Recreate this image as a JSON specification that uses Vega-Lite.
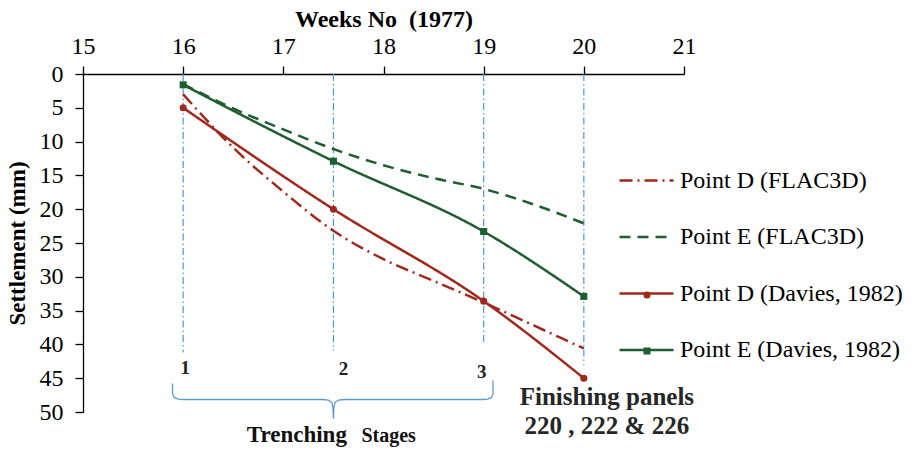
{
  "$schema": "https://vega.github.io/schema/vega-lite/v6.json",
  "width": 601,
  "height": 338,
  "autosize": {"type": "none"},
  "padding": {"left": 83, "top": 74, "right": 234, "bottom": 37},
  "background": "white",
  "config": {
    "view": {"stroke": null},
    "font": "Liberation Serif",
    "axis": {"grid": false, "labelFont": "Liberation Serif", "titleFont": "Liberation Serif", "labelColor": "black", "titleColor": "black", "domainColor": "black", "tickColor": "black", "domainWidth": 1.3, "tickWidth": 1.3, "tickSize": 8, "labelFlush": false, "labelOverlap": false},
    "legend": {"labelFont": "Liberation Serif", "labelFontSize": 24, "labelColor": "black"}
  },
  "datasets": {
    "series": [
      {"series": "Point D (FLAC3D)", "week": 16, "mm": 3},
      {"series": "Point D (FLAC3D)", "week": 16.5, "mm": 10.9},
      {"series": "Point D (FLAC3D)", "week": 17, "mm": 17.4},
      {"series": "Point D (FLAC3D)", "week": 17.5, "mm": 23.2},
      {"series": "Point D (FLAC3D)", "week": 18, "mm": 27.4},
      {"series": "Point D (FLAC3D)", "week": 18.5, "mm": 30.6},
      {"series": "Point D (FLAC3D)", "week": 19, "mm": 33.8},
      {"series": "Point D (FLAC3D)", "week": 19.5, "mm": 37.2},
      {"series": "Point D (FLAC3D)", "week": 20, "mm": 40.6},
      {"series": "Point E (FLAC3D)", "week": 16, "mm": 1.5},
      {"series": "Point E (FLAC3D)", "week": 16.5, "mm": 5.1},
      {"series": "Point E (FLAC3D)", "week": 17, "mm": 8.2},
      {"series": "Point E (FLAC3D)", "week": 17.5, "mm": 11.1},
      {"series": "Point E (FLAC3D)", "week": 18, "mm": 13.5},
      {"series": "Point E (FLAC3D)", "week": 18.5, "mm": 15.4},
      {"series": "Point E (FLAC3D)", "week": 19, "mm": 17.0},
      {"series": "Point E (FLAC3D)", "week": 19.5, "mm": 19.3},
      {"series": "Point E (FLAC3D)", "week": 20, "mm": 22.1},
      {"series": "Point D (Davies, 1982)", "week": 16, "mm": 5},
      {"series": "Point D (Davies, 1982)", "week": 17.5, "mm": 20},
      {"series": "Point D (Davies, 1982)", "week": 19, "mm": 33.6},
      {"series": "Point D (Davies, 1982)", "week": 20, "mm": 45},
      {"series": "Point E (Davies, 1982)", "week": 16, "mm": 1.6},
      {"series": "Point E (Davies, 1982)", "week": 17.5, "mm": 12.9},
      {"series": "Point E (Davies, 1982)", "week": 19, "mm": 23.3},
      {"series": "Point E (Davies, 1982)", "week": 20, "mm": 32.9}
    ],
    "rules": [
      {"week": 16, "mm": 0, "bottom": 41.2},
      {"week": 17.5, "mm": 0, "bottom": 40.9},
      {"week": 19, "mm": 0, "bottom": 40.1},
      {"week": 20, "mm": 0, "bottom": 43.1}
    ],
    "brace": [
      {"i": 1, "week": 15.893, "mm": 45.8},
      {"i": 2, "week": 15.895, "mm": 47.3},
      {"i": 3, "week": 15.91, "mm": 47.85},
      {"i": 4, "week": 15.95, "mm": 48.1},
      {"i": 5, "week": 16.0, "mm": 48.15},
      {"i": 6, "week": 17.39, "mm": 48.15},
      {"i": 7, "week": 17.45, "mm": 48.25},
      {"i": 8, "week": 17.485, "mm": 48.6},
      {"i": 9, "week": 17.495, "mm": 49.3},
      {"i": 10, "week": 17.5, "mm": 51.0},
      {"i": 11, "week": 17.505, "mm": 49.3},
      {"i": 12, "week": 17.515, "mm": 48.6},
      {"i": 13, "week": 17.55, "mm": 48.25},
      {"i": 14, "week": 17.61, "mm": 48.15},
      {"i": 15, "week": 18.99, "mm": 48.15},
      {"i": 16, "week": 19.04, "mm": 48.1},
      {"i": 17, "week": 19.08, "mm": 47.85},
      {"i": 18, "week": 19.093, "mm": 47.3},
      {"i": 19, "week": 19.093, "mm": 45.3}
    ],
    "stages": [
      {"label": "1", "week": 16.02, "mm": 44.4},
      {"label": "2", "week": 17.6, "mm": 44.6},
      {"label": "3", "week": 18.98, "mm": 45.0}
    ],
    "finishing": [
      {"label": "Finishing panels", "week": 20.23, "mm": 49.0},
      {"label": "220 , 222 & 226", "week": 20.23, "mm": 53.2}
    ],
    "trenching": [{"label": "Trenching", "week": 16.635, "mm": 54.5}],
    "stagesWord": [{"label": "Stages", "week": 17.78, "mm": 54.5}]
  },
  "encoding": {
    "x": {"field": "week", "type": "quantitative", "scale": {"domain": [15, 21], "nice": false, "zero": false},
      "axis": {"orient": "top", "values": [15, 16, 17, 18, 19, 20, 21], "format": "d", "title": "Weeks No \u00a0(1977)", "titleFontSize": 24, "titleFontWeight": "bold", "titlePadding": 3, "labelFont": "Liberation Serif", "labelFontSize": 24, "labelPadding": 8, "labelOverlap": false}},
    "y": {"field": "mm", "type": "quantitative", "scale": {"domain": [0, 50], "reverse": true, "nice": false, "zero": false},
      "axis": {"values": [0, 5, 10, 15, 20, 25, 30, 35, 40, 45, 50], "format": "d", "title": "Settlement (mm)", "titleFontSize": 23, "titleFontWeight": "bold", "titlePadding": 10, "labelFont": "Liberation Serif", "labelFontSize": 24, "labelPadding": 12, "labelOverlap": false}}
  },
  "layer": [
    {
      "data": {"name": "rules"},
      "mark": {"type": "rule", "color": "#4a96e0", "strokeWidth": 1.2, "strokeDash": [7, 3, 1.5, 3]},
      "encoding": {
        "y2": {"field": "bottom"}
      }
    },
    {
      "data": {"name": "brace"},
      "mark": {"type": "line", "color": "#5b9bd5", "strokeWidth": 1.3, "clip": false},
      "encoding": {
        "order": {"field": "i", "type": "quantitative"}
      }
    },
    {
      "data": {"name": "series"},
      "mark": {"type": "line", "strokeWidth": 2.5, "interpolate": "monotone"},
      "encoding": {
        "color": {"field": "series", "type": "nominal",
          "scale": {"domain": ["Point D (FLAC3D)", "Point E (FLAC3D)", "Point D (Davies, 1982)", "Point E (Davies, 1982)"], "range": ["#a0291d", "#1e5e30", "#a0291d", "#1e5e30"]},
          "legend": {"orient": "none", "legendX": 535, "legendY": 78, "title": null, "symbolType": "stroke", "symbolSize": 2916, "symbolStrokeWidth": 2.5, "labelFont": "Liberation Serif", "labelFontSize": 24, "labelColor": "black", "labelOffset": 5, "rowPadding": 15.5, "padding": 0, "labelLimit": 400}},
        "strokeDash": {"field": "series", "type": "nominal",
          "scale": {"domain": ["Point D (FLAC3D)", "Point E (FLAC3D)", "Point D (Davies, 1982)", "Point E (Davies, 1982)"], "range": [[13, 5, 2, 5], [11, 7], [1, 0], [1, 0]]},
          "legend": {"orient": "none", "legendX": 535, "legendY": 78, "title": null, "symbolType": "stroke", "symbolSize": 2916, "symbolStrokeWidth": 2.5, "labelFont": "Liberation Serif", "labelFontSize": 24, "labelColor": "black", "labelOffset": 5, "rowPadding": 15.5, "padding": 0, "labelLimit": 400}}
      }
    },
    {
      "data": {"name": "series"},
      "transform": [{"filter": "indexof(datum.series, 'Davies') >= 0"}],
      "mark": {"type": "point", "filled": true, "opacity": 1, "size": 50},
      "encoding": {
        "shape": {"field": "series", "type": "nominal",
          "scale": {"domain": ["Point D (Davies, 1982)", "Point E (Davies, 1982)"], "range": ["circle", "square"]},
          "legend": {"orient": "none", "legendX": 552, "legendY": 209, "title": null, "labelExpr": "''", "labelOpacity": 0, "symbolSize": 50, "symbolStrokeWidth": 0, "labelFontSize": 24, "rowPadding": 32, "padding": 0}},
        "fill": {"field": "series", "type": "nominal",
          "scale": {"domain": ["Point D (Davies, 1982)", "Point E (Davies, 1982)"], "range": ["#a0291d", "#1e5e30"]},
          "legend": {"orient": "none", "legendX": 552, "legendY": 209, "title": null, "labelExpr": "''", "labelOpacity": 0, "symbolSize": 50, "symbolStrokeWidth": 0, "labelFontSize": 24, "rowPadding": 32, "padding": 0}}
      }
    },
    {
      "data": {"name": "stages"},
      "mark": {"type": "text", "font": "Liberation Serif", "fontWeight": "bold", "fontSize": 19, "baseline": "alphabetic", "align": "center", "color": "#222"},
      "encoding": {"text": {"field": "label"}}
    },
    {
      "data": {"name": "finishing"},
      "mark": {"type": "text", "font": "Liberation Serif", "fontWeight": "bold", "fontSize": 25, "baseline": "alphabetic", "align": "center", "color": "#262626"},
      "encoding": {"text": {"field": "label"}}
    },
    {
      "data": {"name": "trenching"},
      "mark": {"type": "text", "font": "Liberation Serif", "fontWeight": "bold", "fontSize": 23, "baseline": "alphabetic", "align": "left", "color": "#111"},
      "encoding": {"text": {"field": "label"}}
    },
    {
      "data": {"name": "stagesWord"},
      "mark": {"type": "text", "font": "Liberation Serif", "fontWeight": "bold", "fontSize": 20, "baseline": "alphabetic", "align": "left", "color": "#111"},
      "encoding": {"text": {"field": "label"}}
    }
  ]
}
